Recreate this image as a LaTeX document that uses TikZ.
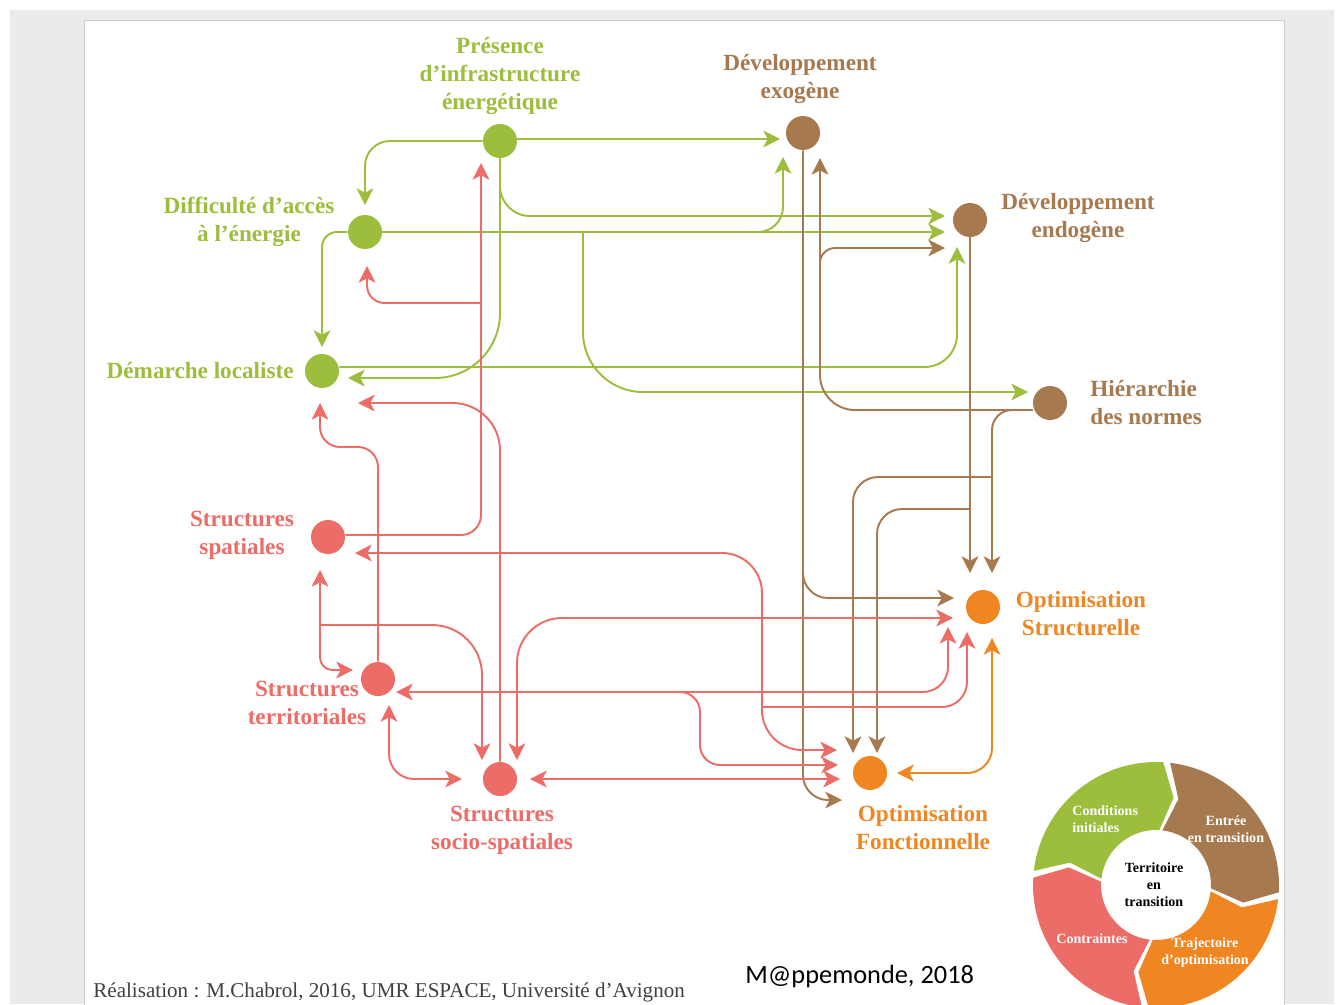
\documentclass[tikz,border=0pt]{standalone}
\usepackage{fontspec}
\setmainfont{Liberation Serif}
\newfontfamily\mapfont{Carlito}
\usetikzlibrary{arrows.meta}
\usetikzlibrary{calc}
\tikzset{>={Stealth[length=9.5pt,width=9.5pt,inset=2.5pt]}}
\definecolor{mapgreen}{RGB}{156,190,60}
\definecolor{mapbrown}{RGB}{167,121,79}
\definecolor{mapred}{RGB}{236,108,104}
\definecolor{maporange}{RGB}{240,134,34}
\definecolor{pagegray}{RGB}{235,235,235}
\tikzstyle{greenline}=[draw=mapgreen,line width=1.1pt,rounded corners=0.5cm]
\tikzstyle{brownline}=[draw=mapbrown,line width=1.1pt,rounded corners=0.5cm]
\tikzstyle{redline}=[draw=mapred,line width=1.1pt,rounded corners=0.5cm]
\tikzstyle{orangeline}=[draw=maporange,line width=1.1pt,rounded corners=0.5cm]
\tikzstyle{dot}=[circle,inner sep=0pt,minimum size=0.68cm]
\tikzstyle{nametag}=[font=\fontsize{13.2}{15.9}\selectfont\bfseries,align=center,inner sep=0pt]
\tikzstyle{cycletag}=[font=\fontsize{8}{9.7}\selectfont\bfseries,align=center,inner sep=0pt,text=white]

\begin{document}
\begin{tikzpicture}[x=0.02cm,y=-0.02cm]
    \useasboundingbox (0,0) rectangle (1344,1004);
    \fill[white] (0,0) rectangle (1344,1004);
    \fill[pagegray] (10,10) rectangle (1334,1004);
    \filldraw[fill=white,draw=black!20] (84,20) rectangle (1284,1010);

    % variables
    \node[dot,fill=mapgreen] (P) at (500,141) {};
    \node[dot,fill=mapgreen] (DA) at (365,232) {};
    \node[dot,fill=mapgreen] (DL) at (322,371) {};
    \node[dot,fill=mapbrown] (DX) at (803,133) {};
    \node[dot,fill=mapbrown] (DN) at (970,220) {};
    \node[dot,fill=mapbrown] (H) at (1050,403) {};
    \node[dot,fill=mapred] (SS) at (328,537) {};
    \node[dot,fill=mapred] (ST) at (378,679) {};
    \node[dot,fill=mapred] (SSS) at (500,779) {};
    \node[dot,fill=maporange] (OS) at (983,607) {};
    \node[dot,fill=maporange] (OF) at (870,773) {};

    \node[nametag,text=mapgreen] (Plbl) at ($(P)+(0,-65)$) {Présence\\d’infrastructure\\énergétique};
    \node[nametag,text=mapgreen] (DAlbl) at ($(DA)+(-116,-10)$) {Difficulté d’accès\\à l’énergie};
    \node[nametag,text=mapgreen,anchor=east] (DLlbl) at ($(DL)+(-28,0)$) {Démarche localiste};
    \node[nametag,text=mapbrown] (DXlbl) at ($(DX)+(-3,-54)$) {Développement\\exogène};
    \node[nametag,text=mapbrown] (DNlbl) at ($(DN)+(108,-2)$) {Développement\\endogène};
    \node[nametag,text=mapbrown,anchor=west,align=left] (Hlbl) at ($(H)+(40,0)$) {Hiérarchie\\des normes};
    \node[nametag,text=mapred] (SSlbl) at ($(SS)+(-86,-2)$) {Structures\\spatiales};
    \node[nametag,text=mapred] (STlbl) at ($(ST)+(-71,24)$) {Structures\\territoriales};
    \node[nametag,text=mapred] (SSSlbl) at ($(SSS)+(2,51)$) {Structures\\socio-spatiales};
    \node[nametag,text=maporange] (OSlbl) at ($(OS)+(98,7)$) {Optimisation\\Structurelle};
    \node[nametag,text=maporange] (OFlbl) at ($(OF)+(53,55)$) {Optimisation\\Fonctionnelle};

    % green links
    \draw[greenline,->] (P.west) -| ($(DA)+(0,-27)$);
    \draw[greenline,->] ($(P)+(17,-2)$) -- ($(DX)+(-23,6)$);
    \draw[greenline,->,rounded corners=0.6cm] (P.south) |- ($(DN)+(-25,-4)$);
    \draw[greenline,->,rounded corners=1.3cm] (P.south) |- ($(DL)+(26,7)$);
    \draw[greenline,->] (DA.east) -- ($(DA.east -| DN)+(-25,0)$);
    \draw[greenline,->] ($(DA.east -| DX)+(-45,0)$) -| ($(DX)+(-20,24)$);
    \draw[greenline,->,rounded corners=1.2cm] ($(DA.east -| P)+(83,0)$) |- ($(H)+(-22,-11)$);
    \draw[greenline,->,rounded corners=0.3cm] (DA.west) -| ($(DL)+(0,-24)$);
    \draw[greenline,->,rounded corners=0.65cm] ($(DL.east)+(0,-4)$) -| ($(DN)+(-13,27)$);

    % brown links
    \draw[brownline,->] (DX.south) |- ($(OF)+(-28,27)$);
    \draw[brownline,->] ($(DX |- OS)+(0,-50)$) |- ($(OS)+(-29,-9)$);
    \draw[brownline,->,rounded corners=0.7cm] ($(H.west)+(0,7)$) -| ($(DX)+(17,25)$);
    \draw[brownline,->,rounded corners=0.3cm] ($(DX)+(17,145)$) |- ($(DN)+(-25,28)$);
    \draw[brownline,->,rounded corners=0.4cm] ($(H.west)+(0,7)$) -| ($(OS)+(9,-34)$);
    \draw[brownline,->] (DN.south) -- ($(DN |- OS)+(0,-34)$);
    \draw[brownline,->] ($(OS)+(9,-130)$) -| ($(OF)+(-17,-20)$);
    \draw[brownline,->] ($(DN |- OS)+(0,-98)$) -| ($(OF)+(7,-20)$);

    % red links
    \draw[redline,->,rounded corners=0.4cm] ($(SS.east)+(0,-2)$) -| ($(P)+(-19,22)$);
    \draw[redline,->,rounded corners=0.35cm] ($(P)+(-19,162)$) -| ($(DA)+(2,34)$);
    \draw[redline,->,rounded corners=0.4cm] (ST.north) -- ($(ST)+(0,-232)$) -| ($(DL)+(-2,32)$);
    \draw[redline,<->,rounded corners=0.25cm] ($(SS)+(-8,33)$) |- ($(ST)+(-25,-9)$);
    \draw[redline,->,rounded corners=1cm] ($(SS)+(-8,88)$) -| ($(SSS)+(-18,-19)$);
    \draw[redline,->,rounded corners=0.95cm] (SSS.north) |- ($(DL)+(36,32)$);
    \draw[redline,<->,rounded corners=0.8cm] ($(SS)+(27,16)$) -| ($(OF)+(-108,-23)$) -- ($(OF)+(-33,-23)$);
    \draw[redline,->] ($(OF)+(-108,-66)$) -| ($(OS)+(-16,25)$);
    \draw[redline,<->,rounded corners=0.9cm] ($(SSS)+(17,-19)$) |- ($(OS)+(-30,11)$);
    \draw[redline,<->] ($(ST)+(18,13)$) -| ($(OS)+(-35,20)$);
    \draw[redline,->,rounded corners=0.4cm] ($(ST)+(300,13)$) -| ($(OF)+(-170,-8)$) -- ($(OF)+(-32,-8)$);
    \draw[redline,<->] ($(ST)+(11,26)$) |- ($(SSS)+(-38,0)$);
    \draw[redline,<->] ($(SSS)+(30,0)$) -- ($(OF)+(-30,6)$);

    % orange link
    \draw[orangeline,<->] ($(OS)+(9,31)$) |- ($(OF)+(27,0)$);

    % cycle
    \begin{scope}[shift={(1156,885)}]
      \foreach \a/\col in {175/mapgreen,85/mapbrown,-5/maporange,-95/mapred} {
        \fill[\col] ({\a-1.6}:2.46cm) arc[start angle=\a-1.6, end angle=\a-88.4, radius=2.46cm]
          -- ({\a-96.4}:1.78cm) -- ({\a-88.4}:1.1cm)
          arc[start angle=\a-88.4, end angle=\a-1.6, radius=1.1cm]
          -- ({\a-9.6}:1.78cm) -- cycle;
      }
      \fill[white] (0,0) circle (1.04cm);
    \end{scope}
    \node[cycletag,anchor=west,align=left] (cinit) at (1072,819) {Conditions\\initiales};
    \node[cycletag] (centree) at (1226,829) {Entrée\\en transition};
    \node[cycletag] (ccontr) at (1092,939) {Contraintes};
    \node[cycletag] (ctraj) at (1205,953) {Trajectoire\\d’optimisation};
    \node[cycletag,text=black] (cterr) at (1154,885) {Territoire\\en\\transition};

    \node[anchor=west,inner sep=0pt,font=\fontsize{12}{14}\selectfont,text=black!75] (credit) at (93,992) {Réalisation : M.Chabrol, 2016, UMR ESPACE, Université d'Avignon};
    \node[anchor=west,inner sep=0pt,font=\mapfont\fontsize{15}{18}\selectfont] (journal) at (745,976) {M@ppemonde, 2018};
\end{tikzpicture}
\end{document}
